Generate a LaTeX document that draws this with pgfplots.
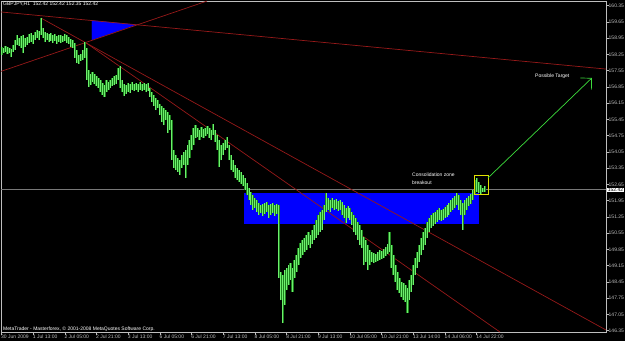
\documentclass[border=0pt]{standalone}
\usepackage{fontspec}
\setmainfont{Liberation Sans}
\usepackage{pgfplots}
\pgfplotsset{compat=1.18}
\usepackage{pgfplotstable}
\usetikzlibrary{arrows.meta}
\definecolor{barg}{RGB}{110,240,110}
\definecolor{bard}{RGB}{30,130,30}
\definecolor{trend}{RGB}{150,25,25}
\definecolor{framec}{RGB}{190,190,190}
\definecolor{zone}{RGB}{0,0,255}
\definecolor{arrowg}{RGB}{60,220,60}
\definecolor{pricel}{RGB}{120,120,120}
\definecolor{boxy}{RGB}{225,225,0}

\pgfplotstableread{
i lo hi
0 158.23 158.57
1 158.31 158.53
2 158.36 158.61
3 158.27 158.57
4 158.31 158.53
5 158.14 158.49
6 158.36 158.66
7 158.44 158.87
8 158.66 159.09
9 158.61 158.96
10 158.53 159.05
11 158.31 159.09
12 158.57 158.96
13 158.66 159.00
14 158.74 159.13
15 158.79 159.17
16 158.70 159.09
17 158.87 159.22
18 158.96 159.30
19 158.87 159.26
20 159.09 159.82
21 158.96 159.39
22 158.79 159.22
23 158.87 159.17
24 158.79 159.13
25 158.83 159.17
26 158.74 159.09
27 158.83 159.13
28 158.70 159.05
29 158.79 159.09
30 158.74 159.09
31 158.79 159.05
32 158.83 159.13
33 158.74 159.09
34 158.70 159.00
35 158.57 158.92
36 158.53 158.87
37 158.10 158.74
38 157.88 158.44
39 157.84 158.23
40 157.97 158.27
41 158.01 158.44
42 158.10 158.79
43 157.15 158.53
44 156.85 157.58
45 156.93 157.41
46 157.06 157.49
47 156.98 157.41
48 156.89 157.32
49 156.81 157.24
50 156.63 157.15
51 156.50 157.02
52 156.42 156.93
53 156.63 157.15
54 156.72 157.06
55 156.81 157.15
56 156.89 157.24
57 156.93 157.32
58 156.98 157.37
59 157.15 157.67
60 156.81 157.75
61 156.63 157.15
62 156.46 156.98
63 156.55 156.93
64 156.63 157.02
65 156.59 156.98
66 156.72 157.06
67 156.68 156.98
68 156.72 157.02
69 156.63 156.98
70 156.72 157.06
71 156.68 156.98
72 156.72 157.02
73 156.63 156.98
74 156.68 157.02
75 156.42 156.81
76 156.20 156.63
77 156.03 156.50
78 155.86 156.37
79 155.94 156.29
80 155.64 156.12
81 155.34 156.03
82 155.21 155.94
83 155.43 155.86
84 154.87 155.77
85 155.00 155.64
86 153.70 155.43
87 153.36 154.13
88 153.27 153.92
89 153.19 153.79
90 153.06 153.70
91 153.36 153.92
92 153.49 154.05
93 152.93 154.13
94 153.49 154.35
95 153.79 154.57
96 154.13 154.78
97 154.35 155.08
98 154.65 155.21
99 154.69 155.08
100 154.57 155.00
101 154.69 155.13
102 154.65 155.04
103 154.74 155.08
104 154.82 155.17
105 154.65 155.08
106 154.57 155.00
107 154.78 155.25
108 154.48 155.00
109 154.13 154.78
110 153.40 154.57
111 153.70 154.35
112 153.92 154.44
113 154.13 154.57
114 154.22 154.69
115 153.70 154.35
116 153.27 153.92
117 153.19 153.70
118 152.93 153.49
119 152.84 153.36
120 152.76 153.27
121 152.67 153.19
122 152.58 153.06
123 152.41 152.93
124 152.20 152.71
125 151.98 152.50
126 151.77 152.33
127 151.55 152.20
128 151.64 152.07
129 151.46 151.98
130 151.33 151.85
131 151.42 151.77
132 151.29 151.81
133 151.38 151.85
134 151.46 151.89
135 151.21 151.77
136 151.33 151.81
137 151.42 151.85
138 151.29 151.77
139 151.38 151.81
140 148.62 151.77
141 147.67 148.88
142 146.68 148.75
143 147.46 148.97
144 148.10 149.05
145 148.32 149.18
146 148.53 149.27
147 148.02 149.05
148 148.62 149.40
149 148.88 149.61
150 149.18 149.91
151 149.48 150.13
152 149.61 150.26
153 149.74 150.34
154 149.83 150.47
155 150.04 150.60
156 149.91 150.47
157 150.09 150.69
158 150.26 150.90
159 150.34 151.12
160 150.47 151.33
161 150.60 151.46
162 150.69 151.55
163 151.12 151.77
164 151.46 152.28
165 151.55 152.07
166 151.46 151.98
167 151.64 152.07
168 151.55 151.98
169 151.59 152.02
170 151.51 151.94
171 151.55 151.98
172 151.33 151.89
173 151.21 151.77
174 150.99 151.64
175 151.21 151.72
176 151.12 151.64
177 150.90 151.46
178 150.60 151.33
179 150.47 151.21
180 150.26 151.03
181 150.04 150.90
182 149.91 150.69
183 149.18 150.39
184 149.31 150.26
185 148.97 150.04
186 149.18 149.83
187 149.31 149.74
188 149.27 149.70
189 149.31 149.65
190 149.35 149.74
191 149.40 149.83
192 149.44 149.78
193 149.48 149.87
194 149.57 149.96
195 149.65 150.09
196 149.74 150.60
197 149.05 150.04
198 148.75 149.61
199 148.45 149.18
200 148.10 148.88
201 147.97 148.62
202 147.80 148.45
203 147.67 148.41
204 147.59 148.32
205 147.11 148.19
206 147.67 148.53
207 148.02 148.75
208 148.32 149.18
209 148.75 149.48
210 149.05 149.74
211 149.31 150.04
212 149.61 150.34
213 149.83 150.60
214 150.04 150.77
215 150.34 151.03
216 150.60 151.21
217 150.77 151.33
218 150.86 151.42
219 150.95 151.46
220 151.03 151.55
221 151.12 151.64
222 151.08 151.55
223 151.12 151.59
224 151.21 151.68
225 151.25 151.77
226 151.33 151.85
227 151.46 151.98
228 151.55 152.07
229 151.64 152.15
230 151.77 152.28
231 151.55 152.20
232 151.33 151.98
233 150.69 151.85
234 151.33 151.98
235 151.55 152.07
236 151.72 152.15
237 151.81 152.24
238 151.98 152.41
239 152.20 152.84
240 152.33 152.93
241 152.28 152.76
242 152.24 152.63
243 152.33 152.50
244 152.33 152.58
}\bars

\begin{document}
\begin{tikzpicture}[x=1pt,y=1pt]
\useasboundingbox (0,0) rectangle (625,341);
\fill[black] (0,0) rectangle (625,341);
\begin{axis}[
  at={(1pt,9pt)}, anchor=south west,
  scale only axis, width=605pt, height=331pt,
  xmin=-0.25, xmax=305.3, ymin=146.294, ymax=160.552,
  axis background/.style={fill=black},
  axis line style={framec, line width=0.6pt},
  ytick={146.35,147.05,147.75,148.45,149.15,149.85,150.55,151.25,151.95,152.65,153.35,154.05,154.75,155.45,156.15,156.85,157.55,158.25,158.95,159.65,160.35},
  xtick={0,16,32,48,64,80,96,112,128,144,160,176,192,208,224,240},
  xticklabels={30 Jun 2009,1 Jul 13:00,2 Jul 05:00,2 Jul 21:00,3 Jul 13:00,6 Jul 05:00,6 Jul 21:00,7 Jul 13:00,8 Jul 05:00,8 Jul 21:00,9 Jul 13:00,10 Jul 05:00,10 Jul 21:00,13 Jul 14:00,14 Jul 06:00,14 Jul 22:00},
  ytick pos=right, yticklabel pos=right, xtick pos=bottom,
  tick align=outside, major tick length=3pt,
  tick style={framec, line width=0.5pt},
  tick label style={font=\fontsize{5}{6}\selectfont, text=framec},
  /pgf/number format/assume math mode=true,
  yticklabel style={anchor=west, inner sep=0.5pt, xshift=-1pt, /pgf/number format/.cd, fixed, fixed zerofill, precision=2},
  xticklabel style={anchor=north west, inner sep=0.5pt, xshift=-1pt, yshift=1pt},
]
% consolidation zone
\addplot[fill=zone, draw=none] coordinates {(122.5,152.28) (241.2,152.28) (241.2,150.95) (122.5,150.95)} -- cycle;
% triangle
\addplot[fill=zone, draw=zone] coordinates {(45.7,159.71) (45.7,158.88) (67.9,159.53)} -- cycle;
% current price line
\addplot[pricel, line width=1pt] coordinates {(-0.25,152.42) (305.3,152.42)};
% trend lines
\addplot[trend, line width=0.7pt] coordinates {(-0.25,160.08) (305.3,157.62)};
\addplot[trend, line width=0.7pt] coordinates {(-0.25,157.52) (103.8,160.55)};
\addplot[trend, line width=0.7pt] coordinates {(19.9,159.82) (305.3,146.38)};
\addplot[trend, line width=0.7pt] coordinates {(42,158.79) (251.8,146.29)};
% bars: darker open/close body, then light high-low line
\addplot[bard, mark=none, line width=2.2pt,
  quiver={u=0, v=\thisrow{hi}-\thisrow{lo}}]
  table[x=i, y=lo] {\bars};
\addplot[barg, mark=none, line width=1pt,
  quiver={u=0, v=\thisrow{hi}-\thisrow{lo}}]
  table[x=i, y=lo] {\bars};
% breakout box
\addplot[boxy, line width=0.8pt] coordinates {(238.6,153.06) (245.7,153.06) (245.7,152.20) (238.6,152.20)} -- cycle;
% target arrow
\addplot[arrowg, line width=0.7pt, -{Straight Barb[length=8pt,width=16pt]}] coordinates {(245.7,152.93) (298.2,157.24)};
\end{axis}
\begin{scope}[every node/.style={font=\fontsize{5}{6}\selectfont, inner sep=0pt}]
\node[anchor=west, text=white] at (3,336.5) {GBPJPY,H1\ \ 152.42 152.42 152.35 152.42};
\node[anchor=base west, text=white] at (3,10.5) {MetaTrader - Masterforex, © 2001-2008 MetaQuotes Software Corp.};
\node[anchor=west, text=white] at (535,265) {Possible Target};
\node[anchor=west, text=white] at (412,166) {Consolidation zone};
\node[anchor=west, text=white] at (412,158) {breakout};
\node[anchor=west, fill=white, text=black, inner sep=0.6pt] at (607,151) {152.42};
\end{scope}
\end{tikzpicture}
\end{document}
